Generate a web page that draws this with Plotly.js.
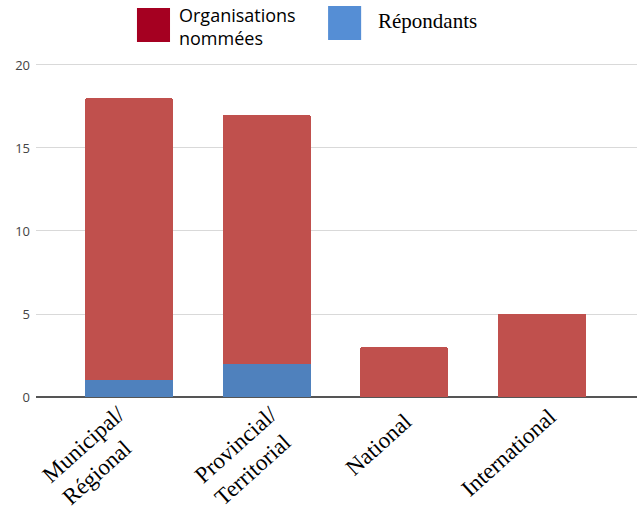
<!DOCTYPE html>
<html>
<head>
<meta charset="utf-8">
<script src="https://cdn.plot.ly/plotly-3.0.1.min.js"></script>
<style>
  html, body { margin: 0; padding: 0; background: #ffffff; }
  #chart { width: 642px; height: 514px; }
</style>
</head>
<body>
<div id="chart"></div>
<script>
// Levels of organisations
const categories = ["Municipal/<br>Régional", "Provincial/<br>Territorial", "National", "International"];
// Respondents (bottom segment)
const repondants = [1, 2, 0, 0];
// Named organisations (top segment)
const organisations = [17, 15, 3, 5];
const yTicks = [0, 5, 10, 15, 20];

const traces = [
  {
    type: "bar",
    name: "Répondants",
    x: categories,
    y: repondants,
    marker: { color: "#4f81bd" },
    width: 0.64,
    showlegend: false,
    hoverinfo: "x+y"
  },
  {
    type: "bar",
    name: "Organisations nommées",
    x: categories,
    y: organisations,
    marker: { color: "#c0504d", cornerradius: 2 },
    width: 0.64,
    showlegend: false,
    hoverinfo: "x+y"
  }
];

// Slanted, left-aligned category labels hung under each bar
const labelFont = { family: "Liberation Serif, Times New Roman, serif", size: 23, color: "#000000" };
const labelOffsetX = [24, 39, 15, 22];
const labelOffsetY = [-1, -1, -9, -4];
const categoryLabels = categories.map((c, i) => ({
  xref: "x", yref: "y", x: c, y: 0,
  xanchor: "right", yanchor: "top",
  xshift: labelOffsetX[i], yshift: labelOffsetY[i],
  textangle: -42, align: "left", showarrow: false,
  text: c, font: labelFont
}));

// plot area: 332px for 20 units, with a little headroom above the top gridline
const layout = {
  width: 642,
  height: 514,
  barmode: "stack",
  paper_bgcolor: "#ffffff",
  plot_bgcolor: "#ffffff",
  margin: { l: 36, r: 5, t: 60, b: 117 },
  showlegend: false,
  xaxis: {
    type: "category",
    range: [-0.675, 3.69],
    showticklabels: false,
    showgrid: false,
    zeroline: false,
    showline: false,
    ticks: ""
  },
  yaxis: {
    range: [0, 20.3],
    tickvals: yTicks,
    ticktext: yTicks.map(String),
    tickfont: { family: "Open Sans, Arial, sans-serif", size: 13, color: "#444444" },
    ticklabelstandoff: 5,
    showgrid: true,
    gridcolor: "#d9d9d9",
    gridwidth: 1,
    zeroline: true,
    zerolinecolor: "#555555",
    zerolinewidth: 1.5,
    ticklen: 0,
    ticks: "",
    automargin: false
  },
  shapes: [
    { type: "rect", xref: "paper", yref: "paper", x0: 0.168, x1: 0.223, y0: 1.0533, y1: 1.1543,
      fillcolor: "#a50021", line: { width: 0 } },
    { type: "rect", xref: "paper", yref: "paper", x0: 0.486, x1: 0.541, y0: 1.0593, y1: 1.1602,
      fillcolor: "#558ed5", line: { width: 0 } }
  ],
  annotations: [
    { xref: "paper", yref: "paper", x: 0.2345, y: 1.175, xanchor: "left", yanchor: "top",
      align: "left", showarrow: false,
      text: "Organisations<br>nommées",
      font: { family: "Open Sans, Liberation Sans, sans-serif", size: 18, color: "#000000" } },
    { xref: "paper", yref: "paper", x: 0.566, y: 1.157, xanchor: "left", yanchor: "top",
      showarrow: false,
      text: "Répondants",
      font: { family: "Liberation Serif, Times New Roman, serif", size: 21, color: "#000000" } }
  ].concat(categoryLabels)
};

Plotly.newPlot("chart", traces, layout, { displayModeBar: false, staticPlot: true });
</script>
</body>
</html>
